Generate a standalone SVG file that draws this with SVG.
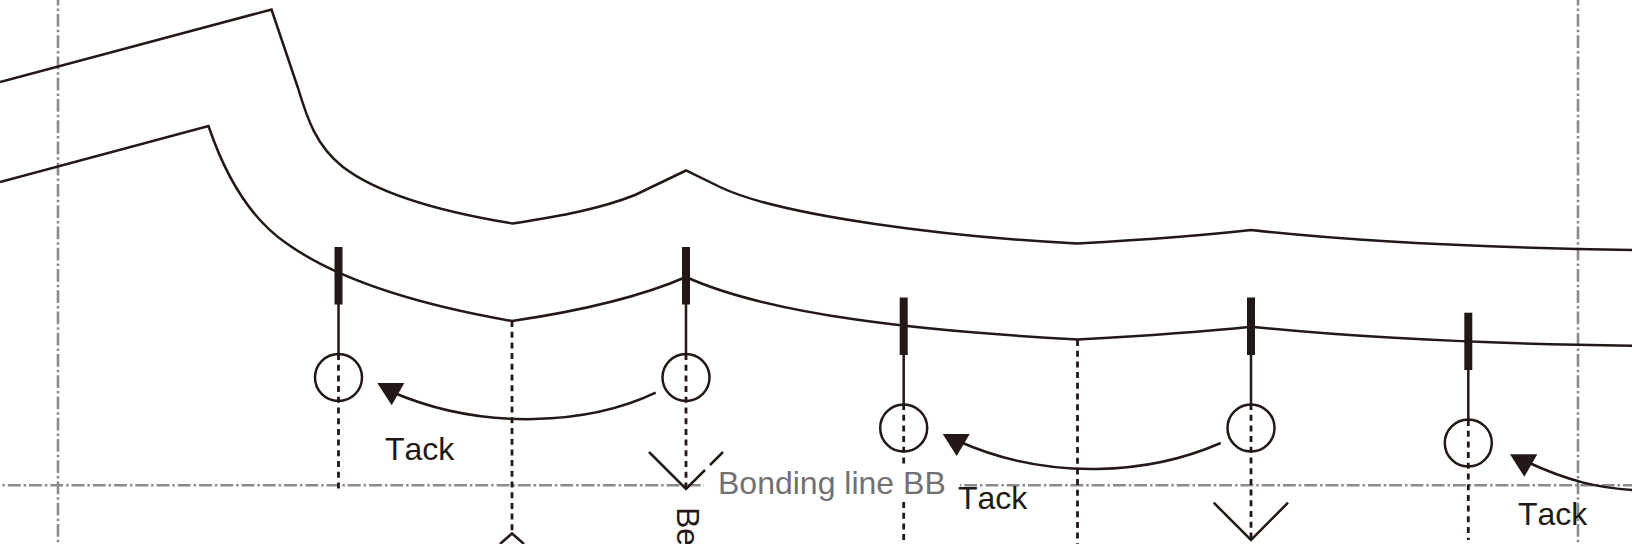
<svg xmlns="http://www.w3.org/2000/svg" width="1632" height="544" viewBox="0 0 1632 544">
<style>
.axis{fill:none;stroke:#8a8a8a;stroke-width:2.6;stroke-dasharray:12.8 3 2.45 3}
.line{fill:none;stroke:#231815;stroke-width:2.5}
.dash{fill:none;stroke:#231815;stroke-width:2.8;stroke-dasharray:6 4.7}
.tick{fill:none;stroke:#231815;stroke-width:8}
.ring{fill:none;stroke:#231815;stroke-width:2.5}
.head{fill:#231815}
text{font-family:"Liberation Sans",Arial,sans-serif;font-size:32px;fill:#231815;font-kerning:none}
.grey{fill:#727171}
</style>
<rect width="1632" height="544" fill="#fff"/>
<g id="axes">
<path class="axis" stroke-dashoffset="7.25" d="M58 0V544"/>
<path class="axis" stroke-dashoffset="7.25" d="M1578 0V544"/>
<path class="axis" stroke-dashoffset="15.8" d="M2.400 485.300H704"/>
<path class="axis" stroke-dashoffset="17" d="M960 485.300H1632"/>
</g>
<g id="profiles">
<path class="line" d="M0 82L271.500 9.500L298 88C307 118 316 146 343 167C373 190 430 210 512.500 223.500C560 216 600 209 635 195L686 170.500L720 187C780 216 950 237 1077 243.500C1140 240 1200 236 1251 230C1360 242 1500 248 1632 250"/>
<path class="line" d="M0 182L208.500 126C222 166 244 214 286 243C318 266 380 298 512 321C580 311 640 297 686 277C770 315 920 331 1077.500 339.500C1140 336 1200 332 1251 326.700C1360 338 1500 344 1632 345.700"/>
</g>
<g id="connectors">
<path class="dash" d="M338.500 354V489"/>
<path class="dash" d="M512 321V534"/>
<path class="dash" d="M686 354V489"/>
<path class="dash" d="M903.700 404V465M903.700 502V540"/>
<path class="dash" d="M1077.500 340V544"/>
<path class="dash" d="M1251 404V540"/>
<path class="dash" d="M1468.300 420V540"/>
<path class="line" d="M338.500 304V354M686 304V354M903.700 355V404M1251 355V404M1468.300 370V420"/>
<path class="line" d="M655.700 392.700C590 424 485 432 392 392"/>
<path class="head" d="M377.300 383H404.300L391.700 405.300Z"/>
<path class="line" d="M1220.700 443C1150 474 1050 482 958 441"/>
<path class="head" d="M942.700 434H969.700L956.700 456Z"/>
<path class="line" d="M1632 490C1600 488 1570 482 1525 461"/>
<path class="head" d="M1510 454.300H1537.300L1524.300 476.700Z"/>
</g>
<g id="node-tack-1"><line class="tick" x1="338.500" y1="247" x2="338.500" y2="304.500"/><circle class="ring" cx="338.500" cy="377.500" r="23.500"/></g>
<g id="node-tack-2"><line class="tick" x1="686" y1="247" x2="686" y2="304.500"/><circle class="ring" cx="686" cy="377.500" r="23.500"/></g>
<g id="node-tack-3"><line class="tick" x1="903.700" y1="297.500" x2="903.700" y2="355"/><circle class="ring" cx="903.700" cy="428" r="23.500"/></g>
<g id="node-tack-4"><line class="tick" x1="1251" y1="297.500" x2="1251" y2="355"/><circle class="ring" cx="1251" cy="428" r="23.500"/></g>
<g id="node-tack-5"><line class="tick" x1="1468.300" y1="312.700" x2="1468.300" y2="370"/><circle class="ring" cx="1468.300" cy="443" r="23.500"/></g>
<g id="markers">
<path class="line" d="M649 452L686 489L705 470M710 465L723 452"/>
<path class="line" d="M1213.700 502.700L1251 540L1288 502.700"/>
<path class="line" d="M500 544L512 533.500L524 544"/>
</g>
<g id="labels">
<text x="385" y="459.500">Tack</text>
<text x="958" y="509">Tack</text>
<text x="1518" y="524.500">Tack</text>
<text class="grey" x="718" y="493.500">Bonding line BB</text>
<text transform="translate(677 507) rotate(90)">Be</text>
</g>
</svg>
